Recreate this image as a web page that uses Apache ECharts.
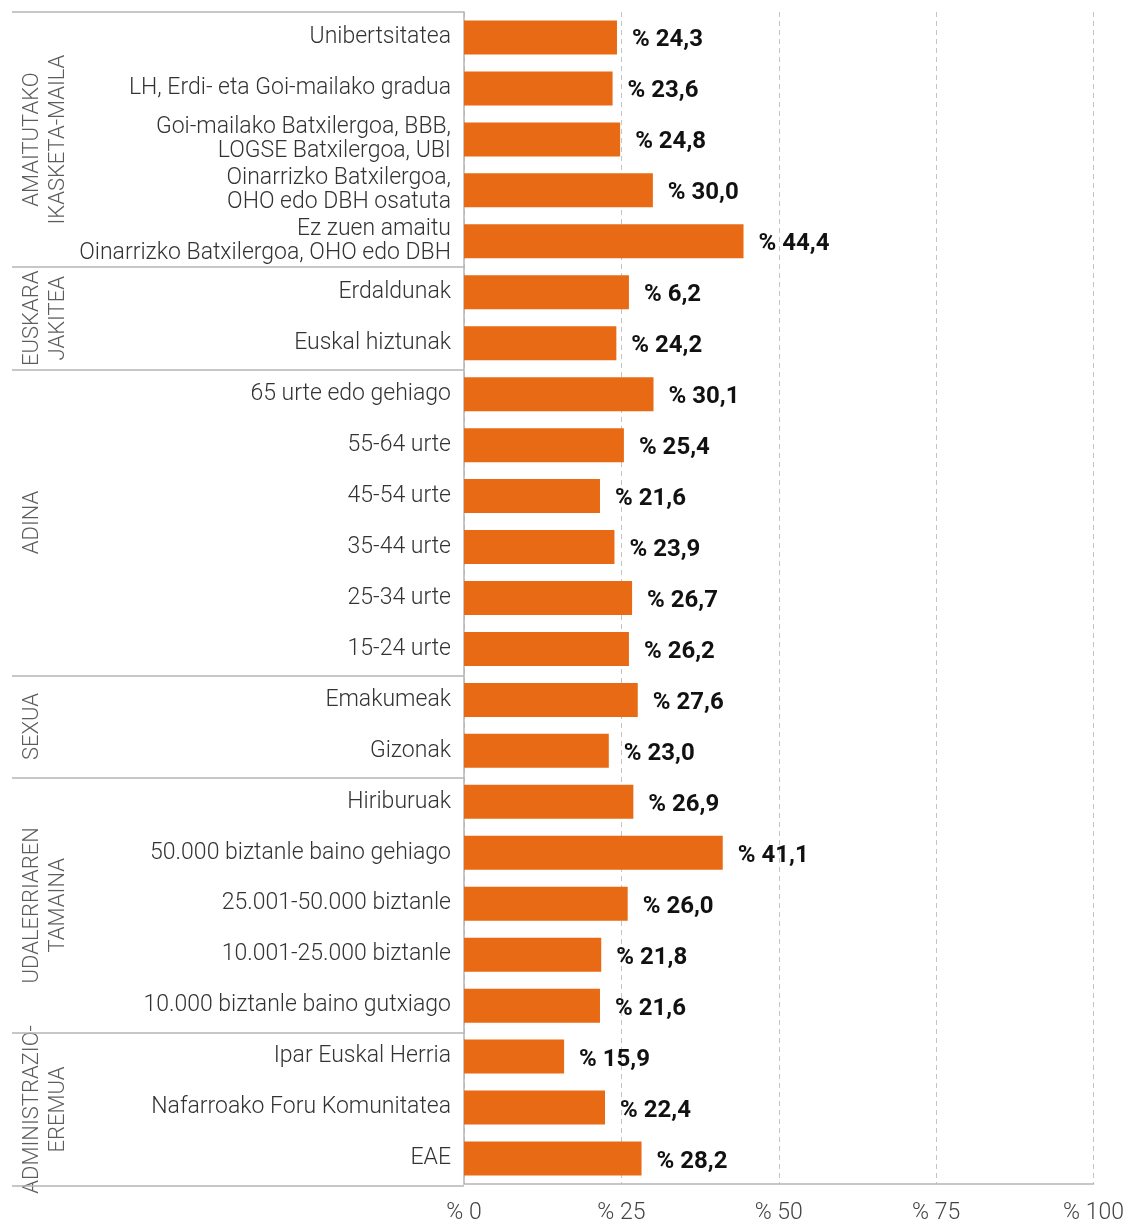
<!DOCTYPE html>
<html>
<head>
<meta charset="utf-8">
<script src="https://cdn.jsdelivr.net/npm/echarts@6/dist/echarts.min.js"></script>
<style>
  html, body { margin: 0; padding: 0; background: #fff; }
  #chart { width: 1127px; height: 1225px; }
</style>
</head>
<body>
<div id="chart"></div>
<script>
// categories top -> bottom
const categories = [
  'Unibertsitatea',
  'LH, Erdi- eta Goi-mailako gradua',
  'Goi-mailako Batxilergoa, BBB,\nLOGSE Batxilergoa, UBI',
  'Oinarrizko Batxilergoa,\nOHO edo DBH osatuta',
  'Ez zuen amaitu\nOinarrizko Batxilergoa, OHO edo DBH',
  'Erdaldunak',
  'Euskal hiztunak',
  '65 urte edo gehiago',
  '55-64 urte',
  '45-54 urte',
  '35-44 urte',
  '25-34 urte',
  '15-24 urte',
  'Emakumeak',
  'Gizonak',
  'Hiriburuak',
  '50.000 biztanle baino gehiago',
  '25.001-50.000 biztanle',
  '10.001-25.000 biztanle',
  '10.000 biztanle baino gutxiago',
  'Ipar Euskal Herria',
  'Nafarroako Foru Komunitatea',
  'EAE'
]
const values = [24.3, 23.6, 24.8, 30.0, 44.4, 26.2, 24.2, 30.1, 25.4, 21.6, 23.9, 26.7, 26.2,
  27.6, 23.0, 26.9, 41.1, 26.0, 21.8, 21.6, 15.9, 22.4, 28.2]
// labels as printed on the chart
const printedLabels = ['% 24,3', '% 23,6', '% 24,8', '% 30,0', '% 44,4', '% 6,2', '% 24,2', '% 30,1',
  '% 25,4', '% 21,6', '% 23,9', '% 26,7', '% 26,2', '% 27,6', '% 23,0', '% 26,9', '% 41,1',
  '% 26,0', '% 21,8', '% 21,6', '% 15,9', '% 22,4', '% 28,2']

const groupNames = ['AMAITUTAKO\nIKASKETA-MAILA', 'EUSKARA\nJAKITEA', 'ADINA', 'SEXUA',
  'UDALERRIAREN\nTAMAINA', 'ADMINISTRAZIO-\nEREMUA']
const groupSizes = [5, 2, 6, 2, 5, 3]
const xTicks = [0, 25, 50, 75, 100]

const boundaries = [0]
groupSizes.forEach(n => boundaries.push(boundaries[boundaries.length - 1] + n))
const groupCenters = groupSizes.map((n, i) => boundaries[i] + n / 2)

const font = 'Roboto, "Noto Sans", sans-serif'
const chart = echarts.init(document.getElementById('chart'))

chart.setOption({
  animation: false,
  textStyle: { fontFamily: font },
  grid: [
    { left: 464, right: 32, top: 12, bottom: 39 },
    { left: 12, right: 663, top: 12, bottom: 39 }
  ],
  xAxis: [{
    gridIndex: 0,
    type: 'value',
    min: xTicks[0],
    max: xTicks[xTicks.length - 1],
    interval: 25,
    axisLine: { show: true, lineStyle: { color: '#b5b5b5', width: 1.5 } },
    axisTick: { show: false },
    axisLabel: {
      formatter: v => '% ' + v,
      fontSize: 23, fontWeight: 300, color: '#444', margin: 18
    },
    splitLine: { show: true, lineStyle: { color: '#c4c4c4', type: [5, 4], width: 1 } }
  }, {
    gridIndex: 1, type: 'value', min: 0, max: 1, show: false
  }],
  yAxis: [{
    gridIndex: 0,
    type: 'category',
    inverse: true,
    data: categories,
    axisLine: { show: true, lineStyle: { color: '#b5b5b5', width: 1.5 } },
    axisTick: { show: false },
    axisLabel: {
      fontSize: 23, fontWeight: 300, color: '#333', margin: 13, lineHeight: 24
    }
  }, {
    gridIndex: 1, type: 'value', min: 0, max: categories.length, inverse: true, show: false
  }],
  series: [{
    type: 'bar',
    xAxisIndex: 0, yAxisIndex: 0,
    data: values,
    barWidth: 34,
    itemStyle: { color: '#E96A15' },
    label: {
      show: true,
      position: 'right',
      distance: 15,
      offset: [0, 3],
      fontSize: 24,
      fontWeight: 'bold',
      color: '#111',
      formatter: p => printedLabels[p.dataIndex]
    }
  }, {
    type: 'scatter',
    xAxisIndex: 1, yAxisIndex: 1,
    symbolSize: 0,
    data: groupCenters.map((c, i) => ({ value: [0, c], name: groupNames[i] })),
    label: {
      show: true,
      position: 'inside',
      rotate: 90,
      align: 'center',
      verticalAlign: 'top',
      offset: [0, 7],
      fontSize: 22,
      fontWeight: 300,
      lineHeight: 26,
      color: '#333',
      formatter: p => p.name
    },
    markLine: {
      silent: true,
      symbol: 'none',
      label: { show: false },
      lineStyle: { color: '#b5b5b5', type: 'solid', width: 1.5 },
      data: boundaries.map(b => ({ yAxis: b }))
    }
  }]
})
</script>
</body>
</html>
